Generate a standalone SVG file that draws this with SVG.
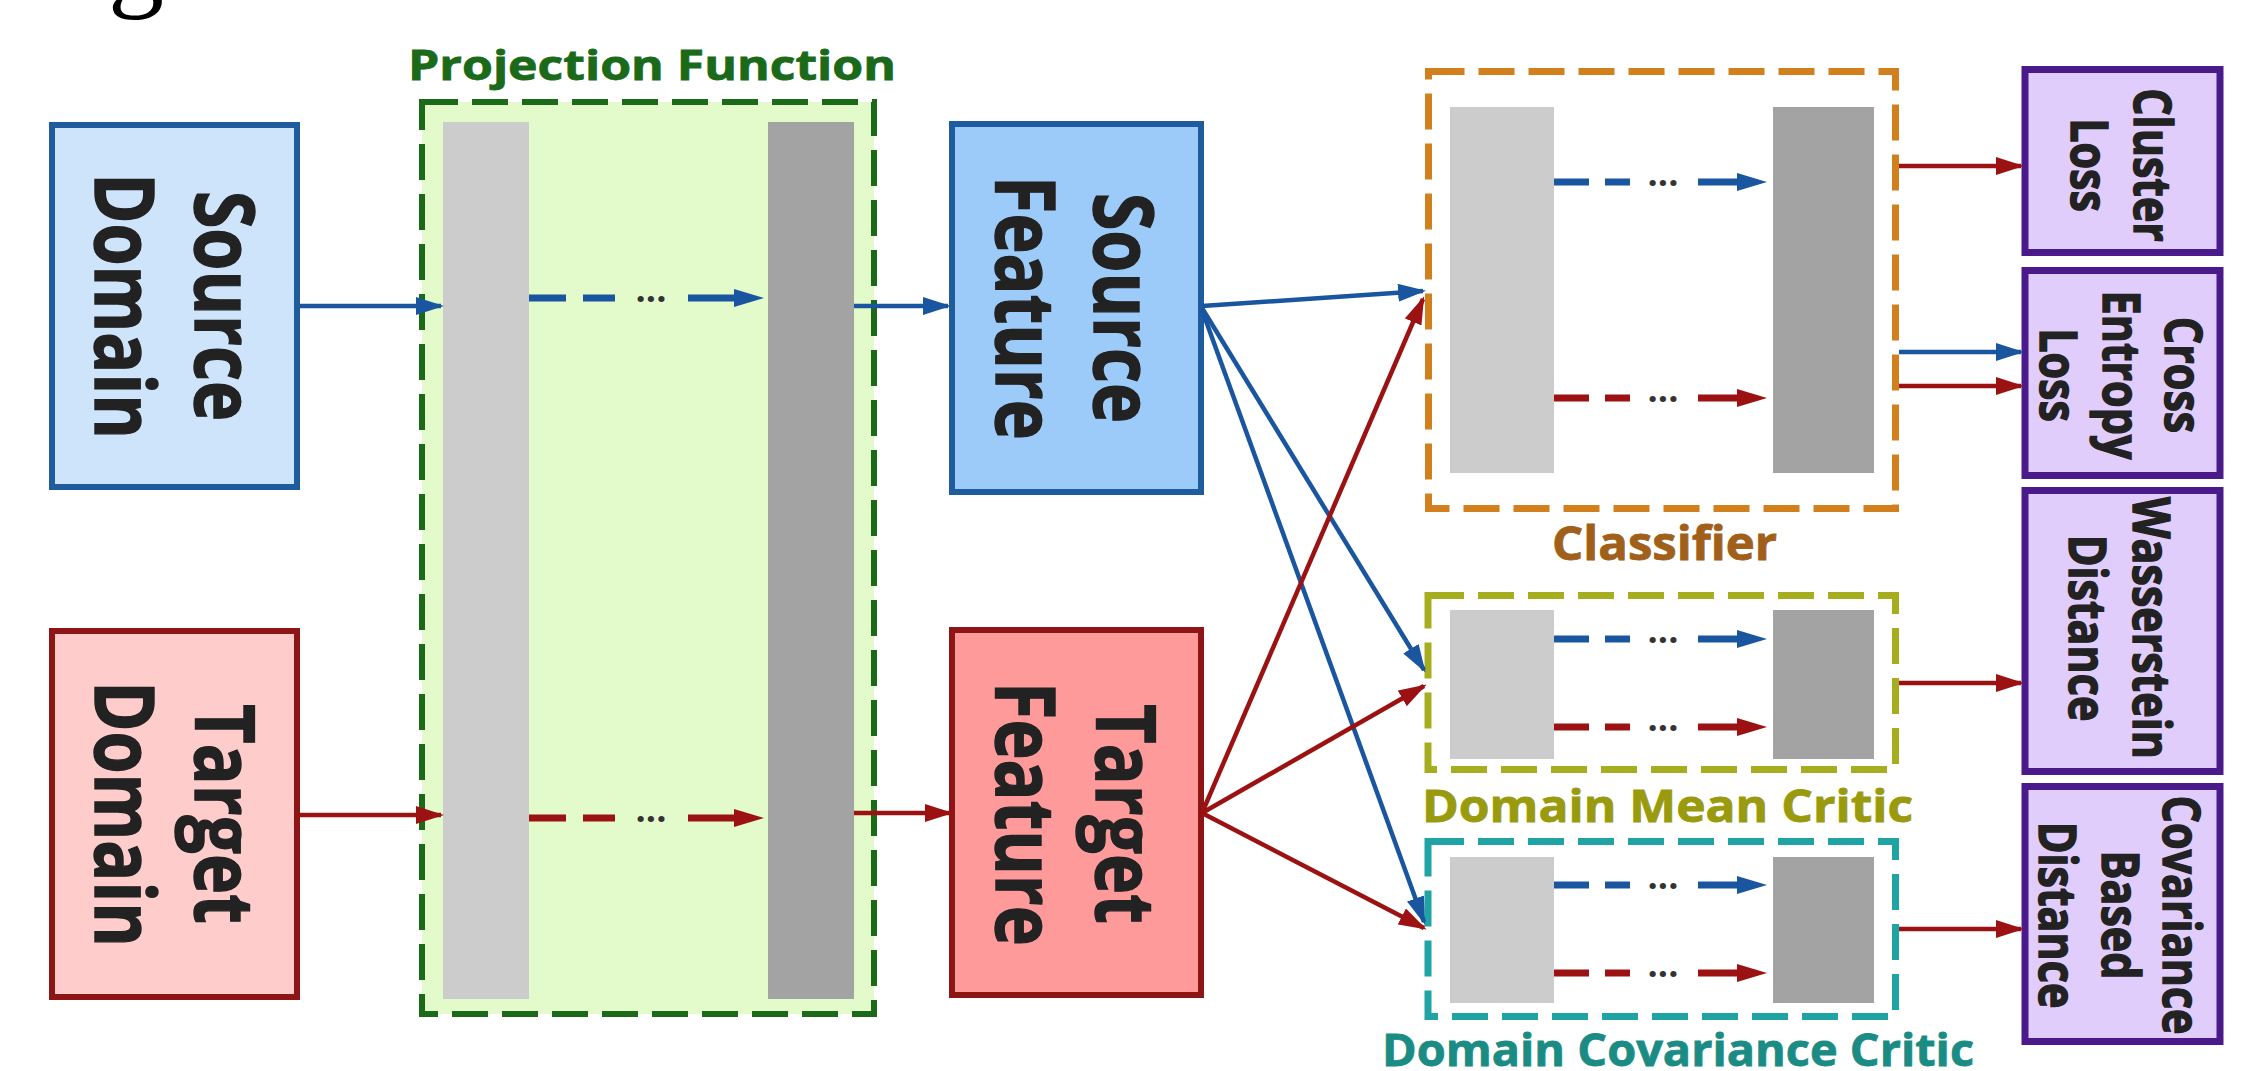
<svg xmlns="http://www.w3.org/2000/svg" width="2250" height="1071" viewBox="0 0 2250 1071">
<defs>
<style>
.bt{font-family:"Open Sans","Noto Sans","DejaVu Sans",sans-serif;font-weight:bold;fill:#222;stroke:#222;stroke-width:1.2}
.lbl{font-family:"Open Sans","Noto Sans","DejaVu Sans",sans-serif;font-weight:bold}
.dots{font-family:"Open Sans","Noto Sans","DejaVu Sans",sans-serif;font-weight:bold;font-size:36px;fill:#333;text-anchor:middle}
.sb{stroke:#1a55a0;stroke-width:4.5;fill:none}
.sr{stroke:#9c1111;stroke-width:4.5;fill:none}
.db{stroke:#1a55a0;stroke-width:7;fill:none}
.dr{stroke:#9c1111;stroke-width:7;fill:none}
.lb{fill:#cccccc}
.dk{fill:#a3a3a3}
.pur{fill:#e0cdfb;stroke:#4a1a8a;stroke-width:7}
</style>
<marker id="hb" markerUnits="userSpaceOnUse" markerWidth="28" markerHeight="18" viewBox="0 0 28 18" refX="25" refY="9" orient="auto"><path d="M0,0 L28,9 L0,18 z" fill="#1a55a0"/></marker>
<marker id="hr" markerUnits="userSpaceOnUse" markerWidth="28" markerHeight="18" viewBox="0 0 28 18" refX="25" refY="9" orient="auto"><path d="M0,0 L28,9 L0,18 z" fill="#9c1111"/></marker>
<marker id="db" markerUnits="userSpaceOnUse" markerWidth="30" markerHeight="18" viewBox="0 0 30 18" refX="0" refY="9" orient="auto"><path d="M0,0 L30,9 L0,18 z" fill="#1a55a0"/></marker>
<marker id="dr" markerUnits="userSpaceOnUse" markerWidth="30" markerHeight="18" viewBox="0 0 30 18" refX="0" refY="9" orient="auto"><path d="M0,0 L30,9 L0,18 z" fill="#9c1111"/></marker>
</defs>
<rect width="2250" height="1071" fill="#ffffff"/>
<text x="108" y="-4" font-family="Liberation Serif, serif" font-size="112" fill="#000">g</text>

<g id="projection-function">
<rect x="422" y="102" width="452" height="912" fill="#e3fbcb" stroke="#1a6a1a" stroke-width="6" stroke-dasharray="36 14"/>
<rect class="lb" x="443" y="122" width="86" height="877"/>
<rect class="dk" x="768" y="122" width="86" height="877"/>
<text class="lbl" x="408" y="80" font-size="41" fill="#1a6a1a" stroke="#1a6a1a" stroke-width="0.8" textLength="488" lengthAdjust="spacingAndGlyphs">Projection Function</text>
</g>

<g id="source-domain">
<rect x="52" y="125" width="245" height="362" fill="#cde4fb" stroke="#1f5c9e" stroke-width="6"/>
<text class="bt" font-size="68" text-anchor="middle" transform="translate(175,306) scale(1.2,1) rotate(90)"><tspan x="0" y="-16.7">Source</tspan><tspan x="0" y="66.7">Domain</tspan></text>
</g>

<g id="target-domain">
<rect x="52" y="631" width="245" height="366" fill="#ffcccc" stroke="#8d1515" stroke-width="6"/>
<text class="bt" font-size="68" text-anchor="middle" transform="translate(175,814) scale(1.2,1) rotate(90)"><tspan x="0" y="-16.7">Target</tspan><tspan x="0" y="66.7">Domain</tspan></text>
</g>

<g id="source-feature">
<rect x="952" y="124" width="249" height="368" fill="#9dcbf9" stroke="#1f5c9e" stroke-width="6"/>
<text class="bt" font-size="68" text-anchor="middle" transform="translate(1076,308) scale(1.2,1) rotate(90)"><tspan x="0" y="-15">Source</tspan><tspan x="0" y="66.7">Feature</tspan></text>
</g>

<g id="target-feature">
<rect x="952" y="630" width="249" height="365" fill="#ff9a9a" stroke="#8d1515" stroke-width="6"/>
<text class="bt" font-size="68" text-anchor="middle" transform="translate(1076,814) scale(1.2,1) rotate(90)"><tspan x="0" y="-16.7">Target</tspan><tspan x="0" y="66.7">Feature</tspan></text>
</g>

<g id="classifier">
<rect x="1428.5" y="71.5" width="467" height="437" fill="#ffffff" stroke="#d2801e" stroke-width="7" stroke-dasharray="36 14"/>
<rect class="lb" x="1450" y="107" width="104" height="366"/>
<rect class="dk" x="1773" y="107" width="101" height="366"/>
<text class="lbl" x="1552" y="560" font-size="46" fill="#a0601a" stroke="#a0601a" stroke-width="0.8" textLength="225" lengthAdjust="spacingAndGlyphs">Classifier</text>
</g>

<g id="domain-mean-critic">
<rect x="1428" y="595.5" width="467.5" height="174" fill="#ffffff" stroke="#a6ad1e" stroke-width="7" stroke-dasharray="36 14"/>
<rect class="lb" x="1450" y="610" width="104" height="149"/>
<rect class="dk" x="1773" y="610" width="101" height="149"/>
<text class="lbl" x="1422" y="822" font-size="44" fill="#9a9a0e" stroke="#9a9a0e" stroke-width="0.8" textLength="491" lengthAdjust="spacingAndGlyphs">Domain Mean Critic</text>
</g>

<g id="domain-covariance-critic">
<rect x="1428" y="841.5" width="467.5" height="175" fill="#ffffff" stroke="#1fa3a3" stroke-width="7" stroke-dasharray="36 14"/>
<rect class="lb" x="1450" y="857" width="104" height="146"/>
<rect class="dk" x="1773" y="857" width="101" height="146"/>
<text class="lbl" x="1382" y="1066" font-size="45" fill="#1a8c84" stroke="#1a8c84" stroke-width="0.8" textLength="592" lengthAdjust="spacingAndGlyphs">Domain Covariance Critic</text>
</g>

<g id="cluster-loss">
<rect class="pur" x="2025" y="69.5" width="195" height="183"/>
<text class="bt" font-size="43" text-anchor="middle" transform="translate(2122,165) scale(1.2,1) rotate(90)"><tspan x="0" y="-10">Cluster</tspan><tspan x="0" y="42.5">Loss</tspan></text>
</g>

<g id="cross-entropy-loss">
<rect class="pur" x="2025" y="270.5" width="195" height="205"/>
<text class="bt" font-size="43" text-anchor="middle" transform="translate(2122,375) scale(1.2,1) rotate(90)"><tspan x="0" y="-35.8">Cross</tspan><tspan x="0" y="15.8">Entropy</tspan><tspan x="0" y="68.3">Loss</tspan></text>
</g>

<g id="wasserstein-distance">
<rect class="pur" x="2025" y="490.5" width="195" height="281"/>
<text class="bt" font-size="43" text-anchor="middle" transform="translate(2122,628) scale(1.2,1) rotate(90)"><tspan x="0" y="-9">Wasserstein</tspan><tspan x="0" y="44">Distance</tspan></text>
</g>

<g id="covariance-based-distance">
<rect class="pur" x="2025" y="786.5" width="195" height="255"/>
<text class="bt" font-size="43" text-anchor="middle" transform="translate(2122,915) scale(1.2,1) rotate(90)"><tspan x="0" y="-34">Covariance</tspan><tspan x="0" y="17">Based</tspan><tspan x="0" y="69">Distance</tspan></text>
</g>

<g id="connectors">
<line class="sb" x1="300" y1="306" x2="441" y2="306" marker-end="url(#hb)"/>
<line class="sb" x1="854" y1="306" x2="948" y2="306" marker-end="url(#hb)"/>
<line class="sr" x1="300" y1="815" x2="441" y2="815" marker-end="url(#hr)"/>
<line class="sr" x1="854" y1="813" x2="950" y2="813" marker-end="url(#hr)"/>

<line class="db" x1="529" y1="298" x2="566" y2="298"/><line class="db" x1="583" y1="298" x2="615" y2="298"/><text class="dots" x="651" y="302">...</text><line class="db" x1="688" y1="298" x2="734" y2="298" marker-end="url(#db)"/>
<line class="dr" x1="529" y1="818" x2="566" y2="818"/><line class="dr" x1="583" y1="818" x2="615" y2="818"/><text class="dots" x="651" y="822">...</text><line class="dr" x1="688" y1="818" x2="734" y2="818" marker-end="url(#dr)"/>

<line class="sb" x1="1202" y1="306" x2="1423" y2="291" marker-end="url(#hb)"/>
<line class="sb" x1="1202" y1="308" x2="1424" y2="670" marker-end="url(#hb)"/>
<line class="sb" x1="1202" y1="310" x2="1424" y2="922" marker-end="url(#hb)"/>
<line class="sr" x1="1202" y1="813" x2="1423" y2="299" marker-end="url(#hr)"/>
<line class="sr" x1="1202" y1="813" x2="1424" y2="686" marker-end="url(#hr)"/>
<line class="sr" x1="1202" y1="813" x2="1424" y2="928" marker-end="url(#hr)"/>

<line class="db" x1="1554" y1="182" x2="1589" y2="182"/><line class="db" x1="1605" y1="182" x2="1630" y2="182"/><text class="dots" x="1663" y="186">...</text><line class="db" x1="1698" y1="182" x2="1737" y2="182" marker-end="url(#db)"/>
<line class="dr" x1="1554" y1="398" x2="1589" y2="398"/><line class="dr" x1="1605" y1="398" x2="1630" y2="398"/><text class="dots" x="1663" y="402">...</text><line class="dr" x1="1698" y1="398" x2="1737" y2="398" marker-end="url(#dr)"/>
<line class="db" x1="1554" y1="639" x2="1589" y2="639"/><line class="db" x1="1605" y1="639" x2="1630" y2="639"/><text class="dots" x="1663" y="643">...</text><line class="db" x1="1698" y1="639" x2="1737" y2="639" marker-end="url(#db)"/>
<line class="dr" x1="1554" y1="727" x2="1589" y2="727"/><line class="dr" x1="1605" y1="727" x2="1630" y2="727"/><text class="dots" x="1663" y="731">...</text><line class="dr" x1="1698" y1="727" x2="1737" y2="727" marker-end="url(#dr)"/>
<line class="db" x1="1554" y1="885" x2="1589" y2="885"/><line class="db" x1="1605" y1="885" x2="1630" y2="885"/><text class="dots" x="1663" y="889">...</text><line class="db" x1="1698" y1="885" x2="1737" y2="885" marker-end="url(#db)"/>
<line class="dr" x1="1554" y1="973" x2="1589" y2="973"/><line class="dr" x1="1605" y1="973" x2="1630" y2="973"/><text class="dots" x="1663" y="977">...</text><line class="dr" x1="1698" y1="973" x2="1737" y2="973" marker-end="url(#dr)"/>

<line class="sr" x1="1899" y1="166" x2="2021" y2="166" marker-end="url(#hr)"/>
<line class="sb" x1="1899" y1="352" x2="2021" y2="352" marker-end="url(#hb)"/>
<line class="sr" x1="1899" y1="386" x2="2021" y2="386" marker-end="url(#hr)"/>
<line class="sr" x1="1899" y1="683" x2="2021" y2="683" marker-end="url(#hr)"/>
<line class="sr" x1="1899" y1="929" x2="2021" y2="929" marker-end="url(#hr)"/>
</g>
</svg>
